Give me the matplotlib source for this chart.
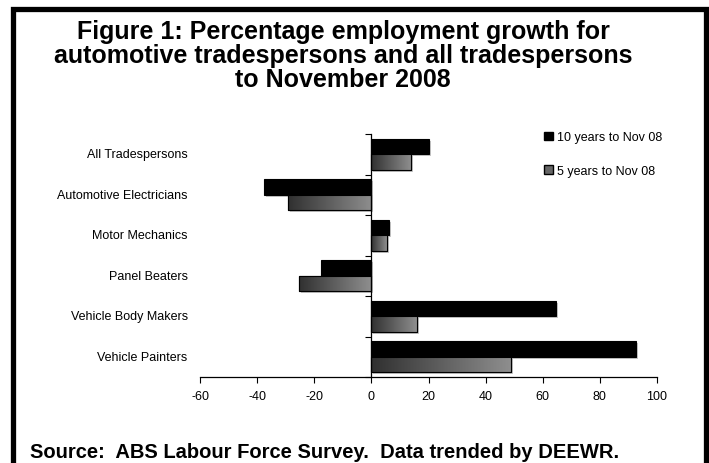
"""Horizontal bar chart: employment growth for automotive trades vs all trades."""
import numpy as np
import matplotlib
matplotlib.use("Agg")
import matplotlib.pyplot as plt
import matplotlib.patheffects as pe
from matplotlib.colors import LinearSegmentedColormap
from matplotlib.patches import Patch, Rectangle
from matplotlib.transforms import blended_transform_factory

occupations = [
    "All Tradespersons",
    "Automotive Electricians",
    "Motor Mechanics",
    "Panel Beaters",
    "Vehicle Body Makers",
    "Vehicle Painters",
]
growth_10yr = [20.2, -37.5, 6.2, -17.6, 64.5, 92.6]
growth_5yr = [13.8, -29.2, 5.5, -25.2, 15.9, 48.8]
series_labels = ["10 years to Nov 08", "5 years to Nov 08"]
x_ticks = [-60, -40, -20, 0, 20, 40, 60, 80, 100]

title_lines = [
    "Figure 1: Percentage employment growth for",
    "automotive tradespersons and all tradespersons",
    "to November 2008",
]
source = "Source:  ABS Labour Force Survey.  Data trended by DEEWR."

BOLD = ["Liberation Sans", "DejaVu Sans"]
NARROW = ["Liberation Sans Narrow", "Liberation Sans", "DejaVu Sans"]

W, H = 709, 464
fig = plt.figure(figsize=(W / 100, H / 100), dpi=100)
ax = fig.add_axes([200 / W, 1 - 378 / H, 457 / W, 243 / H])

y = np.arange(len(occupations))
bar_h = 0.38
shadow = [pe.SimplePatchShadow(offset=(1.5, -1.5), shadow_rgbFace="0.78", alpha=1.0),
          pe.Normal()]

black = ax.barh(y - bar_h / 2, growth_10yr, height=bar_h, color="black",
                edgecolor="black", linewidth=0.8, zorder=2)
grey = ax.barh(y + bar_h / 2, growth_5yr, height=bar_h, color="#666666",
               edgecolor="black", linewidth=0.8, zorder=2)
for b in list(black) + list(grey):
    b.set_path_effects(shadow)

# left-to-right grey gradient inside each 5-year bar
ramp = LinearSegmentedColormap.from_list("ramp", ["#303030", "#8e8e8e"])
grad = np.linspace(0, 1, 256).reshape(1, -1)
for b in grey:
    x0, y0 = b.get_x(), b.get_y()
    x1, y1 = x0 + b.get_width(), y0 + b.get_height()
    img = ax.imshow(grad, extent=[min(x0, x1), max(x0, x1), y1, y0],
                    aspect="auto", cmap=ramp, interpolation="bilinear", zorder=2.5)
    img.set_clip_path(b)
ax.barh(y + bar_h / 2, growth_5yr, height=bar_h, color="none",
        edgecolor="black", linewidth=0.8, zorder=3)

ax.set_xlim(-60, 100)
ax.set_ylim(len(occupations) - 0.5, -0.5)

for side in ("top", "right"):
    ax.spines[side].set_visible(False)
ax.spines["left"].set_position(("data", 0))
ax.spines["left"].set_linewidth(0.9)
ax.spines["bottom"].set_linewidth(0.9)

ax.set_yticks(np.arange(-0.5, len(occupations), 1.0))
ax.set_yticklabels([])
ax.tick_params(axis="y", direction="out", length=4, width=0.8)
ax.set_xticks(x_ticks)
ax.set_xticklabels([str(t) for t in x_ticks], fontfamily=NARROW, fontsize=9)
ax.tick_params(axis="x", direction="out", length=4, width=0.8, pad=5)

trans = blended_transform_factory(ax.transAxes, ax.transData)
for i, name in enumerate(occupations):
    ax.text(-0.027, i, name, transform=trans, ha="right", va="center",
            fontfamily=NARROW, fontsize=9)

handles = [Patch(facecolor="black", edgecolor="black"),
           Patch(facecolor="#666666", edgecolor="black")]
fig.legend(handles, series_labels, loc="upper left",
           bbox_to_anchor=(538 / W, 1 - 126 / H), frameon=False,
           prop={"family": NARROW, "size": 9}, handlelength=0.7,
           handleheight=0.7, handletextpad=0.3, labelspacing=1.75, borderpad=0)

for line, base in zip(title_lines, (39, 63, 87)):
    fig.text(343 / W, 1 - base / H, line, ha="center", va="baseline",
             fontfamily=BOLD, fontsize=18, fontweight="bold")
fig.text(30 / W, 1 - 458 / H, source, ha="left", va="baseline", fontfamily=BOLD,
         fontsize=14.5, fontweight="bold")

# heavy frame around the whole figure
fig.add_artist(Rectangle((12.5 / W, -0.05), (706 - 12.5) / W, 1.05 - 10 / H,
                         transform=fig.transFigure, fill=False,
                         edgecolor="black", linewidth=3.8, clip_on=False))

fig.savefig("out.png", dpi=100)
